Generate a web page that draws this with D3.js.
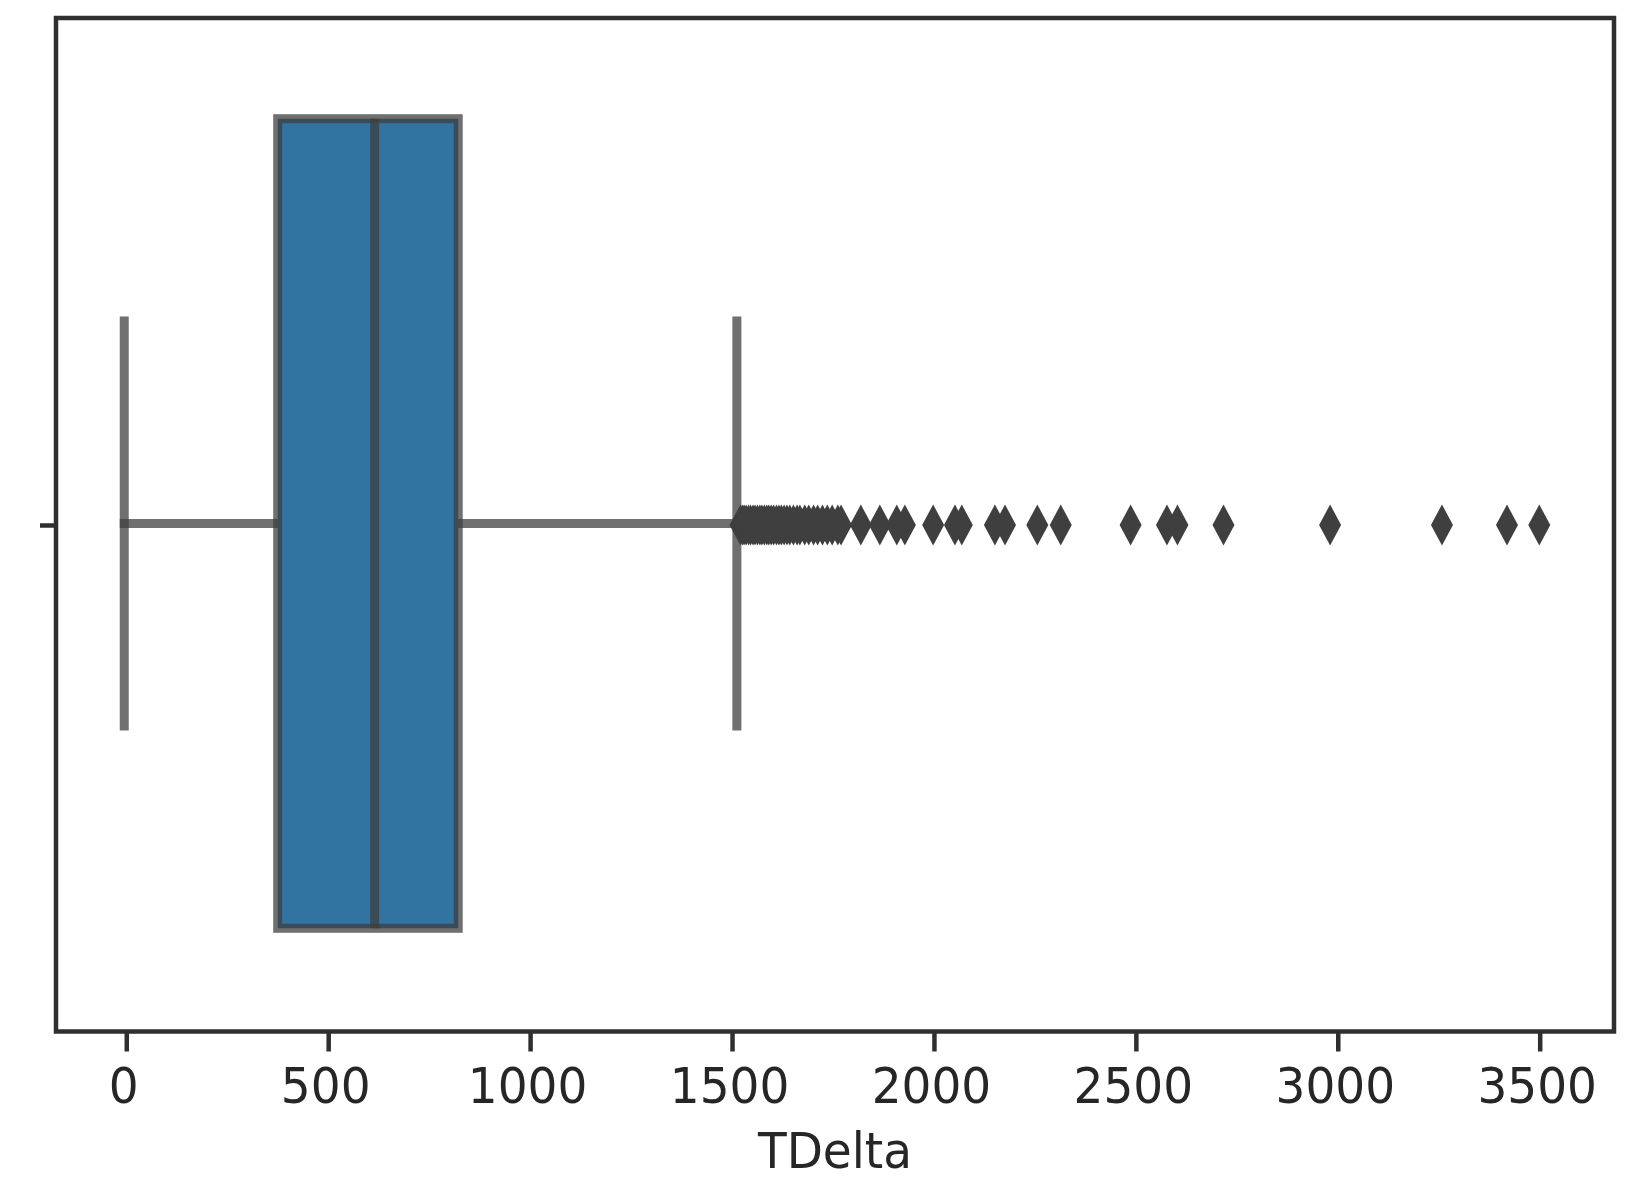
<!DOCTYPE html>
<html>
<head>
<meta charset="utf-8">
<script src="https://cdn.jsdelivr.net/npm/d3@7"></script>
<style>
  html, body { margin: 0; padding: 0; background: #ffffff; }
  svg { display: block; }
</style>
</head>
<body>
<svg id="chart" width="1638" height="1186"></svg>
<script>
// ---- data ----
const xLabel = "TDelta";
const xTicks = [0, 500, 1000, 1500, 2000, 2500, 3000, 3500];
const xDomain = [-174, 3684];
const quartiles = [375, 615, 822];      // Q1, median, Q3
const whiskers = [-5, 1512];            // low, high
const fliers = [
  1521, 1526, 1530, 1535, 1541, 1546, 1552, 1557, 1563, 1569, 1574, 1580,
  1586, 1591, 1597, 1603, 1610, 1616, 1622, 1629, 1636, 1643, 1652, 1661,
  1668, 1680, 1690, 1702, 1712, 1724, 1736, 1748, 1762, 1770,
  1819, 1866, 1908, 1928, 1998, 2052, 2069, 2151, 2176, 2256, 2314,
  2487, 2577, 2603, 2717, 2981, 3258, 3419, 3499
];

// ---- layout ----
const frame = { left: 56, right: 1614, top: 18, bottom: 1031.5 };
const svg = d3.select("#chart");
const x = d3.scaleLinear().domain(xDomain).range([frame.left, frame.right]);
const y = d3.scaleLinear().domain([-0.5, 0.5]).range([17.5, 1029.5]);

const lineColor = "rgba(62,62,62,0.74)";
const lw = 9;
const boxHalf = 0.4, capHalf = 0.2;

const g = svg.append("g");

// whiskers
g.selectAll("line.whisker")
  .data([[quartiles[0], whiskers[0]], [quartiles[2], whiskers[1]]])
  .join("line")
  .attr("class", "whisker")
  .attr("x1", d => x(d[0])).attr("x2", d => x(d[1]))
  .attr("y1", y(0)).attr("y2", y(0))
  .attr("stroke", lineColor).attr("stroke-width", lw)
  .attr("stroke-linecap", "square");

// caps
g.selectAll("line.cap")
  .data(whiskers)
  .join("line")
  .attr("class", "cap")
  .attr("x1", d => x(d)).attr("x2", d => x(d))
  .attr("y1", y(-capHalf)).attr("y2", y(capHalf))
  .attr("stroke", lineColor).attr("stroke-width", lw)
  .attr("stroke-linecap", "square");

// box
g.append("rect")
  .attr("x", x(quartiles[0]))
  .attr("width", x(quartiles[2]) - x(quartiles[0]))
  .attr("y", y(-boxHalf))
  .attr("height", y(boxHalf) - y(-boxHalf))
  .attr("fill", "#3274a1")
  .attr("stroke", lineColor).attr("stroke-width", lw);

// median
g.append("line")
  .attr("x1", x(quartiles[1])).attr("x2", x(quartiles[1]))
  .attr("y1", y(-boxHalf)).attr("y2", y(boxHalf))
  .attr("stroke", lineColor).attr("stroke-width", lw);

// fliers (thin diamonds)
const hw = 11, hh = 20.5;
g.selectAll("path.flier")
  .data(fliers)
  .join("path")
  .attr("class", "flier")
  .attr("transform", d => `translate(${x(d)},${y(0) + 1.5})`)
  .attr("d", `M0,${-hh}L${hw},0L0,${hh}L${-hw},0Z`)
  .attr("fill", "#3f3f3f");

// frame
svg.append("rect")
  .attr("x", frame.left).attr("y", frame.top)
  .attr("width", frame.right - frame.left)
  .attr("height", frame.bottom - frame.top)
  .attr("fill", "none")
  .attr("stroke", "#2f2f2f").attr("stroke-width", 4.5);

// x axis
const xAxis = svg.append("g")
  .attr("transform", `translate(0,${frame.bottom})`)
  .call(d3.axisBottom(x).tickValues(xTicks).tickSize(20).tickSizeOuter(0).tickFormat(d3.format("d")));
xAxis.select(".domain").remove();
xAxis.selectAll(".tick line").attr("stroke", "#2f2f2f").attr("stroke-width", 4.5).attr("y1", 1);
xAxis.selectAll(".tick text")
  .attr("y", 0).attr("dy", null)
  .attr("transform", "translate(-3,71.8) scale(1,1.07)")
  .attr("fill", "#262626")
  .style("font-family", "DejaVu Sans")
  .style("font-size", "47px");

// y axis (single unlabeled tick)
const yAxis = svg.append("g")
  .attr("transform", `translate(${frame.left},0)`)
  .call(d3.axisLeft(y).tickValues([0]).tickSize(14).tickSizeOuter(0).tickFormat(""));
yAxis.select(".domain").remove();
yAxis.selectAll(".tick line").attr("stroke", "#2f2f2f").attr("stroke-width", 4.5)
  .attr("transform", "translate(-2,1.5)");

// x label
svg.append("text")
  .attr("transform", `translate(${(frame.left + frame.right) / 2},1168) scale(1,1.07)`)
  .attr("text-anchor", "middle")
  .attr("fill", "#262626")
  .style("font-family", "DejaVu Sans")
  .style("font-size", "47px")
  .text(xLabel);
</script>
</body>
</html>
